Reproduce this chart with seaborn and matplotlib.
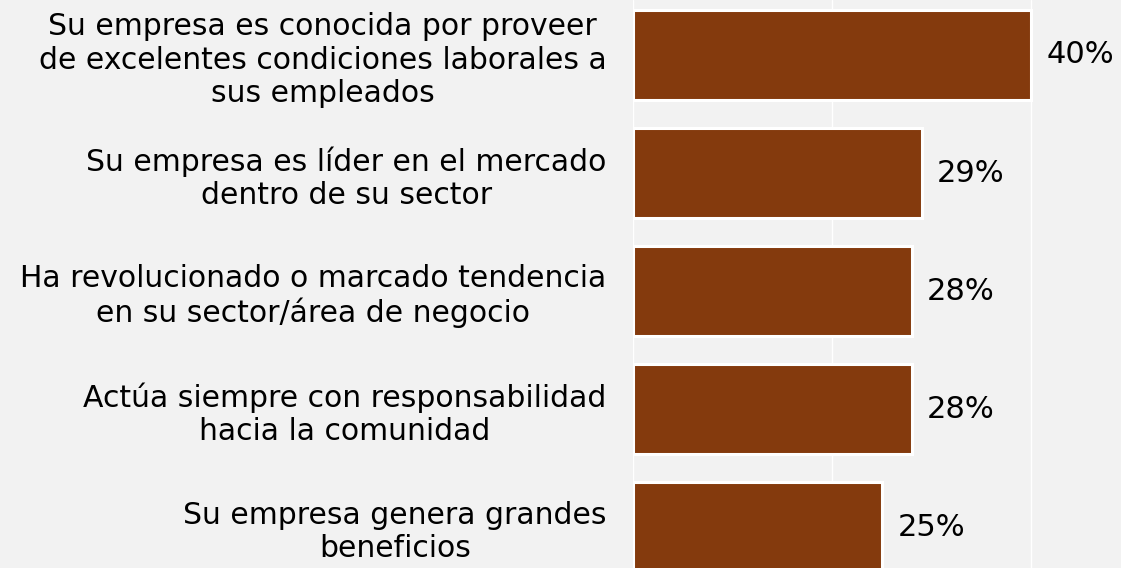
import matplotlib
matplotlib.use("Agg")
import matplotlib.pyplot as plt
import seaborn as sns
import pandas as pd

categories = [
    "Su empresa es conocida por proveer\nde excelentes condiciones laborales a\nsus empleados",
    "Su empresa es líder en el mercado\ndentro de su sector",
    "Ha revolucionado o marcado tendencia\nen su sector/área de negocio",
    "Actúa siempre con responsabilidad\nhacia la comunidad",
    "Su empresa genera grandes\nbeneficios",
]
values = [40, 29, 28, 28, 25]

BG = "#f2f2f2"
BAR = "#843a0d"

sns.set_theme(style="whitegrid", rc={
    "axes.facecolor": BG,
    "figure.facecolor": BG,
    "grid.color": "white",
    "grid.linewidth": 1.0,
    "axes.edgecolor": BG,
})
plt.rcParams["font.family"] = ["DejaVu Sans"]

df = pd.DataFrame({"categoria": categories, "valor": values})

fig = plt.figure(figsize=(11.21, 5.68), dpi=100)
ax = fig.add_axes([633 / 1121, 0, (1121 - 633) / 1121, 1])

sns.barplot(data=df, y="categoria", x="valor", orient="h", color=BAR,
            saturation=1, width=0.76, edgecolor="white", linewidth=2.2, ax=ax)

ax.set_xlim(0, 49)
ax.set_ylim(4.347, -0.466)
ax.set_xticks([0, 20, 40])
ax.xaxis.grid(True)
ax.yaxis.grid(False)
ax.set_xlabel("")
ax.set_ylabel("")
ax.tick_params(axis="x", bottom=False, labelbottom=False)
ax.tick_params(axis="y", left=False, pad=13)
for lbl in ax.get_yticklabels():
    lbl.set_fontsize(21.5)
    lbl.set_color("black")
    lbl.set_multialignment("center")
    lbl.set_linespacing(1.18)
for s in ax.spines.values():
    s.set_visible(False)

for i, v in enumerate(values):
    ax.annotate(f"{v}%", xy=(v, i), xytext=(11, 0), textcoords="offset points",
                ha="left", va="center", fontsize=22, color="black")

fig.savefig("out.png", dpi=100, facecolor=BG)
